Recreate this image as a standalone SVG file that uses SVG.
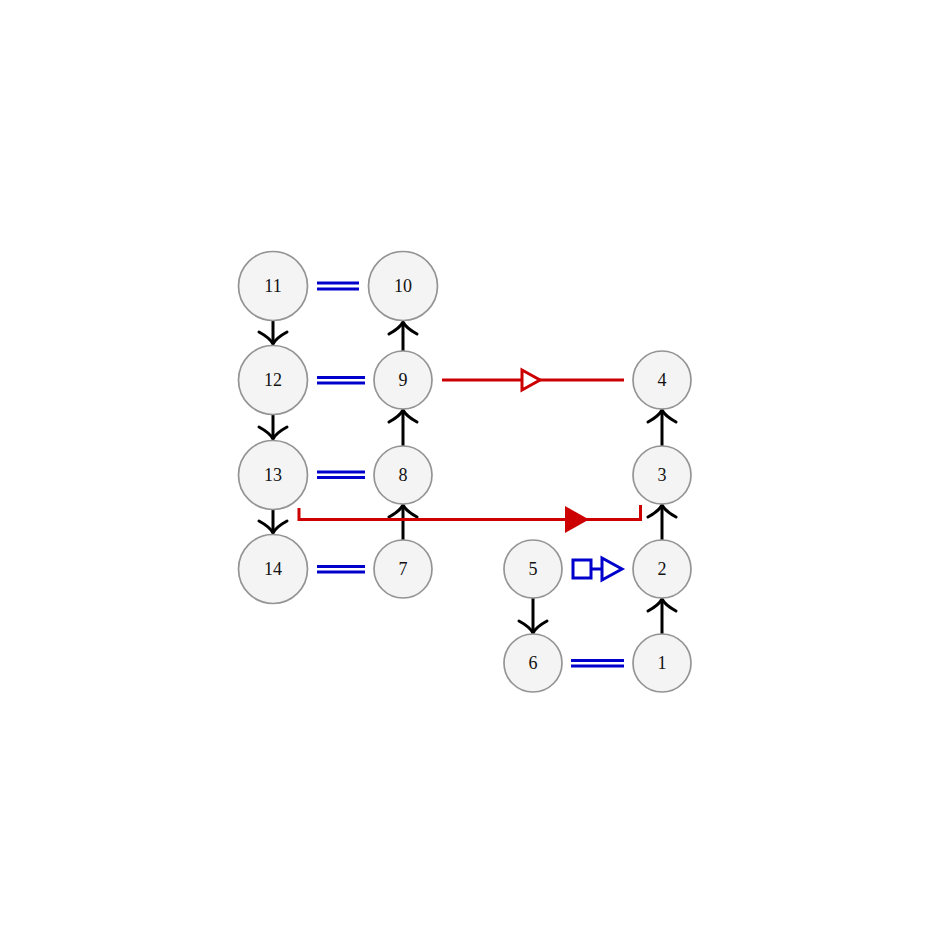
<svg xmlns="http://www.w3.org/2000/svg" width="945" height="945" viewBox="0 0 945 945">
<style>
.n circle{fill:#f4f4f4;stroke:#949494;stroke-width:1.7}
.n text{font-family:"Liberation Serif","DejaVu Serif",serif;font-size:18px;fill:#111;text-anchor:middle;dominant-baseline:central}
.blk{stroke:#000;stroke-width:3;fill:none;stroke-linecap:butt}
.eq{stroke:#0000cc;stroke-width:2.8;fill:none}
.red{stroke:#cc0000;stroke-width:3;fill:none}
</style>
<defs>
<marker id="chev" viewBox="-20 -20 40 40" markerWidth="40" markerHeight="40" refX="0" refY="0" orient="auto" markerUnits="userSpaceOnUse">
<path d="M-12,-14 Q-6,-3 0,0 Q-6,3 -12,14" fill="none" stroke="#000" stroke-width="3" stroke-linecap="round" stroke-linejoin="round"/>
</marker>
</defs>
<rect width="945" height="945" fill="#fff"/>
<g id="connectors">
<line class="blk" x1="273" y1="321" x2="273" y2="344" marker-end="url(#chev)"/>
<line class="blk" x1="273" y1="415" x2="273" y2="439" marker-end="url(#chev)"/>
<line class="blk" x1="273" y1="510" x2="273" y2="533" marker-end="url(#chev)"/>
<line class="blk" x1="403" y1="351" x2="403" y2="322" marker-end="url(#chev)"/>
<line class="blk" x1="403" y1="446" x2="403" y2="410" marker-end="url(#chev)"/>
<line class="blk" x1="403" y1="540" x2="403" y2="505" marker-end="url(#chev)"/>
<line class="blk" x1="662" y1="446" x2="662" y2="410" marker-end="url(#chev)"/>
<line class="blk" x1="662" y1="540" x2="662" y2="505" marker-end="url(#chev)"/>
<line class="blk" x1="662" y1="634" x2="662" y2="599" marker-end="url(#chev)"/>
<line class="blk" x1="533" y1="598" x2="533" y2="633" marker-end="url(#chev)"/>
<g class="eq">
<path d="M317,283 H359 M317,289 H359"/>
<path d="M317,377.5 H365 M317,383 H365"/>
<path d="M317,472 H365 M317,477.5 H365"/>
<path d="M317,566.5 H365 M317,572 H365"/>
<path d="M571,660.5 H624 M571,666 H624"/>
</g>
<g stroke="#0000cc" stroke-width="3" fill="#fff">
<rect x="573" y="560" width="18" height="18"/>
<line x1="591" y1="569" x2="602" y2="569"/>
<path d="M602,558 L622,569 L602,580 Z" stroke-linejoin="miter"/>
</g>
<line class="red" x1="442" y1="380" x2="624" y2="380"/>
<path d="M522,370 L540,380 L522,390 Z" fill="#fff" stroke="#cc0000" stroke-width="3"/>
<path class="red" d="M299,508 V519.5 H640.5 V505"/>
<path d="M565,506 L589,519.5 L565,533 Z" fill="#cc0000"/>
</g>
<g id="n11" class="n"><circle cx="273" cy="286" r="34.5"/><text x="273" y="286">11</text></g>
<g id="n10" class="n"><circle cx="403" cy="286" r="34.5"/><text x="403" y="286">10</text></g>
<g id="n12" class="n"><circle cx="273" cy="380" r="34.5"/><text x="273" y="380">12</text></g>
<g id="n9" class="n"><circle cx="403" cy="380" r="29"/><text x="403" y="380">9</text></g>
<g id="n13" class="n"><circle cx="273" cy="475" r="34.5"/><text x="273" y="475">13</text></g>
<g id="n8" class="n"><circle cx="403" cy="475" r="29"/><text x="403" y="475">8</text></g>
<g id="n14" class="n"><circle cx="273" cy="569" r="34.5"/><text x="273" y="569">14</text></g>
<g id="n7" class="n"><circle cx="403" cy="569" r="29"/><text x="403" y="569">7</text></g>
<g id="n4" class="n"><circle cx="662" cy="380" r="29"/><text x="662" y="380">4</text></g>
<g id="n3" class="n"><circle cx="662" cy="475" r="29"/><text x="662" y="475">3</text></g>
<g id="n5" class="n"><circle cx="533" cy="569" r="29"/><text x="533" y="569">5</text></g>
<g id="n2" class="n"><circle cx="662" cy="569" r="29"/><text x="662" y="569">2</text></g>
<g id="n6" class="n"><circle cx="533" cy="663" r="29"/><text x="533" y="663">6</text></g>
<g id="n1" class="n"><circle cx="662" cy="663" r="29"/><text x="662" y="663">1</text></g>
</svg>
